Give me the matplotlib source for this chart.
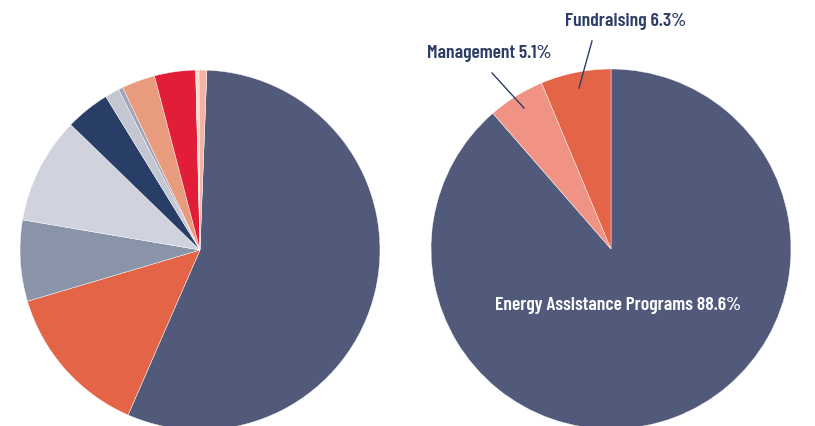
import matplotlib
matplotlib.use('Agg')
import matplotlib.pyplot as plt

# Data
left_values = [56.1, 13.9, 7.3, 9.6, 4.0, 1.3, 0.4, 3.0, 3.7, 0.3, 0.7]
left_colours = ['#525a7c', '#e36446', '#8a94a8', '#d0d3dd', '#283e66', '#c4c6d2',
                '#a0a4ba', '#e99b7d', '#e11d37', '#fbd9cc', '#f4b3a3']

right_labels = ['Energy Assistance Programs', 'Management', 'Fundraising']
right_values = [88.6, 5.1, 6.3]
right_colours = ['#525a7c', '#f09385', '#e36446']

text_colour = '#2c3e66'
font = ['Barlow Condensed', 'DejaVu Sans']

fig = plt.figure(figsize=(8.15, 4.27), dpi=100)
ax = fig.add_axes([0, 0, 1, 1])

wedge = {'linewidth': 0.3, 'edgecolor': 'white'}
ax.pie(left_values, colors=left_colours, startangle=87.8, counterclock=False,
       center=(200, 176), radius=180, wedgeprops=wedge, frame=True)
ax.pie(right_values, colors=right_colours, startangle=90, counterclock=False,
       center=(611, 177), radius=180, wedgeprops=wedge, frame=True)

# Labels
style = dict(ha='center', va='center', fontsize=14, fontweight=600, family=font)
ax.text(618, 121, f'{right_labels[0]} {right_values[0]}%', color='white', **style)
ax.text(489, 373, f'{right_labels[1]} {right_values[1]}%', color=text_colour, **style)
ax.text(626, 405, f'{right_labels[2]} {right_values[2]}%', color=text_colour, **style)

# Leader lines
ax.plot([492, 524], [353, 318], color=text_colour, linewidth=1)
ax.plot([592, 579], [385, 338], color=text_colour, linewidth=1)

ax.set_xlim(0, 815)
ax.set_ylim(0, 427)
ax.set_aspect('equal')
ax.axis('off')

fig.savefig('out.png', dpi=100)
